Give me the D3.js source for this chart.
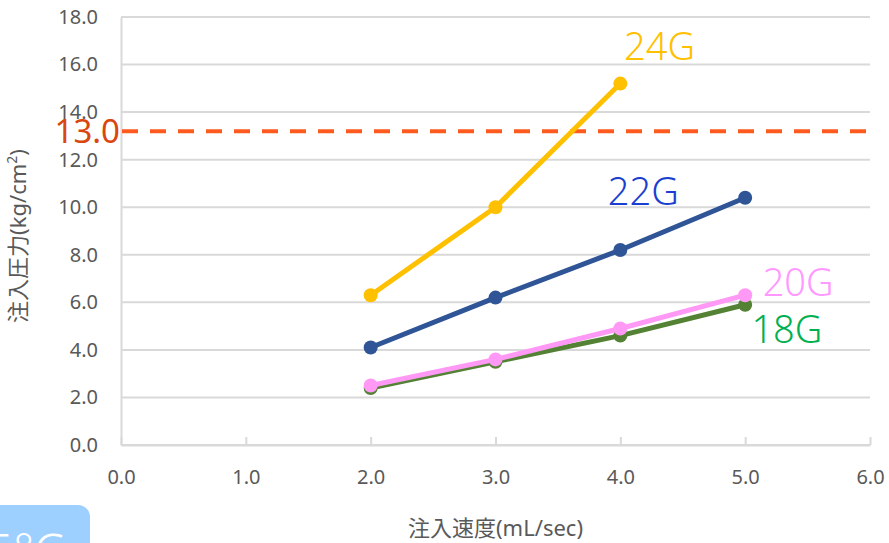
<!DOCTYPE html>
<html>
<head>
<meta charset="utf-8">
<script src="https://cdn.jsdelivr.net/npm/d3@7"></script>
<style>
  body { margin: 0; background: #fff; }
  text { font-family: "Noto Sans", "Noto Sans CJK JP", sans-serif; }
</style>
</head>
<body>
<div id="chart"></div>
<script>
// data
const rates = [2.0, 3.0, 4.0, 5.0];
const seriesNames = ['18G', '20G', '22G', '24G'];
const g18 = [2.4, 3.5, 4.6, 5.9];
const g20 = [2.5, 3.6, 4.9, 6.3];
const g22 = [4.1, 6.2, 8.2, 10.4];
const g24 = [6.3, 10.0, 15.2];
const xTicks = [0, 1, 2, 3, 4, 5, 6];
const yTicks = [0, 2, 4, 6, 8, 10, 12, 14, 16, 18];
const limitValue = 13.2;
const limitLabel = '13.0';

const colors = { '18G': '#548235', '20G': '#FF99F5', '22G': '#2F5597', '24G': '#FFC000' };
const labelColors = { '18G': '#00B050', '20G': '#FF99FF', '22G': '#1A3FD0', '24G': '#FFC000' };
// label anchor (data units) for each series name
const labelAt = { '18G': [5.05, 4.3], '20G': [5.14, 6.25], '22G': [3.9, 10.1], '24G': [4.03, 16.2] };

const width = 889, height = 543;
const margin = { top: 17, right: 19, bottom: 98, left: 121 };

const svg = d3.select('#chart').append('svg')
  .attr('width', width)
  .attr('height', height);

const x = d3.scaleLinear().domain([0, 6]).range([margin.left, width - margin.right]);
const y = d3.scaleLinear().domain([0, 18]).range([height - margin.bottom, margin.top]);

// gridlines
svg.append('g')
  .selectAll('line')
  .data(yTicks)
  .enter()
  .append('line')
  .attr('x1', x(0)).attr('x2', x(6))
  .attr('y1', d => y(d)).attr('y2', d => y(d))
  .attr('stroke', '#d9d9d9')
  .attr('stroke-width', 2);

// x axis, ticks pointing up into the plot
const xAxis = svg.append('g')
  .attr('transform', `translate(0,${y(0)})`)
  .call(d3.axisBottom(x).tickValues(xTicks).tickFormat(d3.format('.1f'))
    .tickSizeInner(-8).tickSizeOuter(0).tickPadding(25));
xAxis.select('.domain').attr('stroke', '#d9d9d9').attr('stroke-width', 2);
xAxis.selectAll('.tick line').attr('stroke', '#d9d9d9').attr('stroke-width', 2);
xAxis.selectAll('text').attr('fill', '#595959').style('font-size', '20px');

const yAxis = svg.append('g')
  .attr('transform', `translate(${x(0)},0)`)
  .call(d3.axisLeft(y).tickValues(yTicks).tickFormat(d3.format('.1f'))
    .tickSize(0).tickPadding(23));
yAxis.select('.domain').attr('stroke', '#d9d9d9').attr('stroke-width', 2);
yAxis.selectAll('text').attr('fill', '#595959').style('font-size', '20px');

// limit line
svg.append('line')
  .attr('x1', x(0) + 1).attr('x2', x(6))
  .attr('y1', y(limitValue)).attr('y2', y(limitValue))
  .attr('stroke', '#FF5B1F')
  .attr('stroke-width', 4)
  .attr('stroke-dasharray', '16,12');

svg.append('text')
  .attr('x', x(0) - 1)
  .attr('y', y(limitValue))
  .attr('dy', '0.36em')
  .attr('text-anchor', 'end')
  .attr('fill', '#D9470F')
  .style('font-size', '33px')
  .text(limitLabel);

// series
const series = [
  { name: '18G', values: g18 },
  { name: '20G', values: g20 },
  { name: '22G', values: g22 },
  { name: '24G', values: g24 }
];

const line = d3.line().x((d, i) => x(rates[i])).y(d => y(d));

series.forEach(s => {
  const g = svg.append('g');
  g.append('path')
    .datum(s.values)
    .attr('d', line)
    .attr('fill', 'none')
    .attr('stroke', colors[s.name])
    .attr('stroke-width', 5)
    .attr('stroke-linejoin', 'round');
  g.selectAll('circle')
    .data(s.values)
    .enter()
    .append('circle')
    .attr('cx', (d, i) => x(rates[i]))
    .attr('cy', d => y(d))
    .attr('r', 7)
    .attr('fill', colors[s.name]);
});

// series labels
svg.selectAll('.series-label')
  .data(seriesNames)
  .enter()
  .append('text')
  .attr('class', 'series-label')
  .attr('x', d => x(labelAt[d][0]))
  .attr('y', d => y(labelAt[d][1]))
  .attr('fill', d => labelColors[d])
  .style('font-size', '38px')
  .style('font-weight', 300)
  .text(d => d);

// axis titles
svg.append('text')
  .attr('x', x(3))
  .attr('y', 536)
  .attr('text-anchor', 'middle')
  .attr('fill', '#595959')
  .style('font-size', '22px')
  .text('注入速度(mL/sec)');

svg.append('text')
  .attr('transform', `translate(26,${y(9) + 5}) rotate(-90)`)
  .attr('text-anchor', 'middle')
  .attr('fill', '#595959')
  .style('font-size', '22px')
  .html('注入圧力(kg/cm<tspan dy="-9" style="font-size:14px">2</tspan><tspan dy="9">)</tspan>');

// cropped badge in the lower left corner
svg.append('rect')
  .attr('x', -20).attr('y', 505)
  .attr('width', 110).attr('height', 60)
  .attr('rx', 12)
  .attr('fill', '#9DCFFF');
svg.append('text')
  .attr('x', -14).attr('y', 568)
  .attr('fill', '#fff')
  .style('font-size', '48px')
  .style('font-weight', 300)
  .text('5°C');
</script>
</body>
</html>
